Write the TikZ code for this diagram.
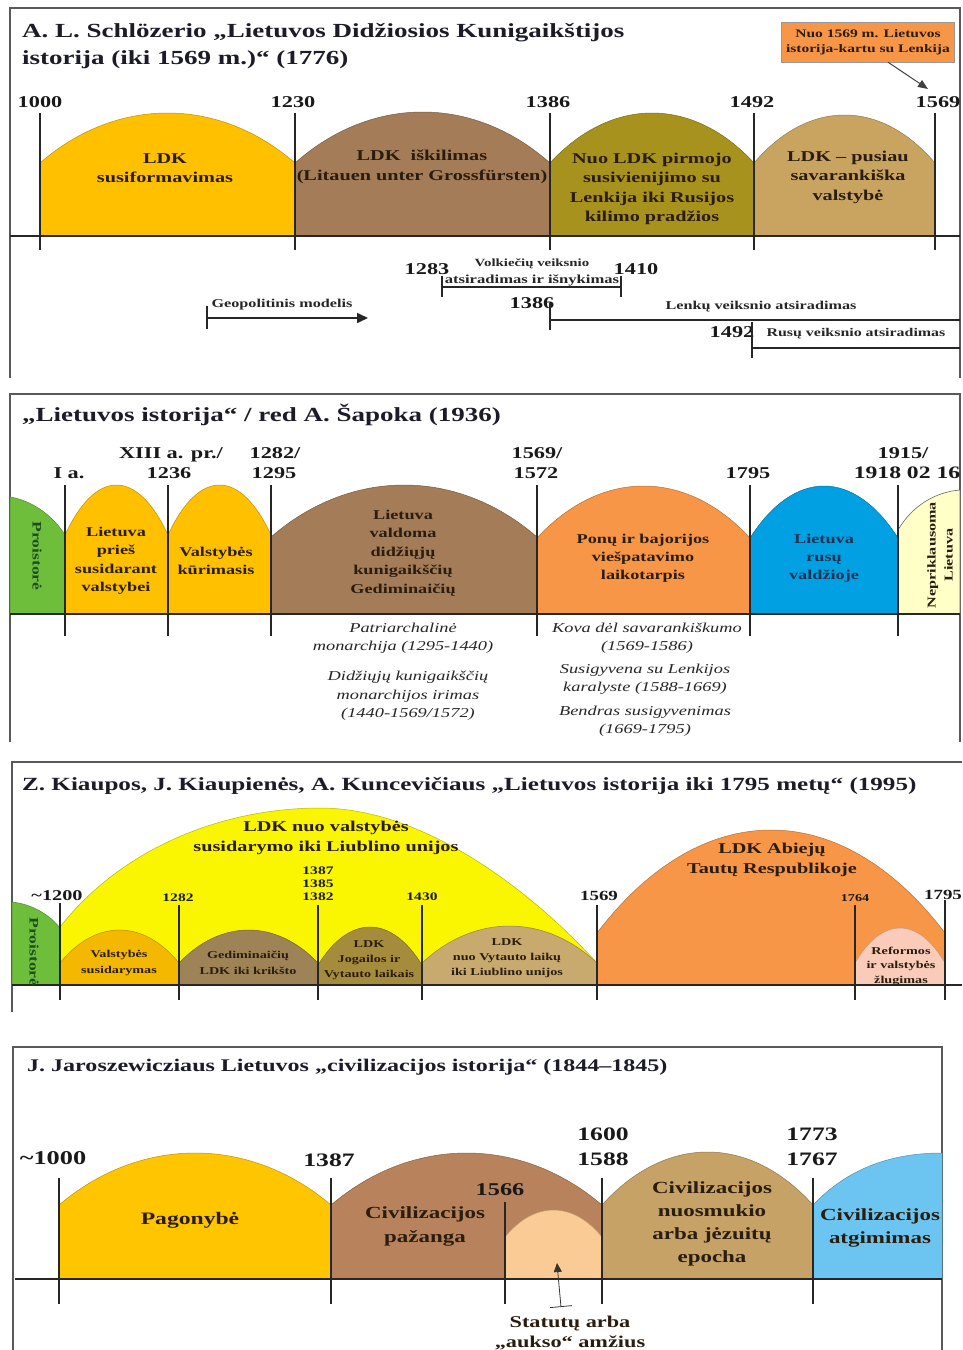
\documentclass[tikz,border=0pt]{standalone}
\usepackage{fontspec}
\setmainfont{Liberation Serif}[FakeStretch=1.35]
\usetikzlibrary{arrows.meta}
\definecolor{gold}{HTML}{FFC000}
\definecolor{brownA}{HTML}{A47C58}
\definecolor{oliveA}{HTML}{A8921E}
\definecolor{tanA}{HTML}{C9A460}
\definecolor{greenA}{HTML}{6EBE3C}
\definecolor{orangeA}{HTML}{F79646}
\definecolor{blueA}{HTML}{00A0E2}
\definecolor{lyellow}{HTML}{FFFFC8}
\definecolor{yelB}{HTML}{FAF500}
\definecolor{goldB}{HTML}{F5B800}
\definecolor{brownB}{HTML}{9E8356}
\definecolor{oliveB}{HTML}{A58C3C}
\definecolor{tanB}{HTML}{C8AA6E}
\definecolor{pinkB}{HTML}{F9CBB8}
\definecolor{yelD}{HTML}{FFC600}
\definecolor{brownD}{HTML}{B8825C}
\definecolor{peachD}{HTML}{FACB94}
\definecolor{tanD}{HTML}{C6A266}
\definecolor{blueD}{HTML}{6CC5F0}
\definecolor{ink}{HTML}{2A1D10}
\definecolor{titlec}{HTML}{1C1C28}
\definecolor{navy}{HTML}{1F3050}
\definecolor{dgreen}{HTML}{1E4D1E}
\newcommand\fs[2]{\fontsize{#1}{#2}\selectfont}
\newcommand\mkarch[6]{\path[#1] (#2,#6) -- (#2,#4) .. controls ({#2+0.3*(#3-#2)},{#4-1.3333*(#4-#5)}) and ({#3-0.3*(#3-#2)},{#4-1.3333*(#4-#5)}) .. (#3,#4) -- (#3,#6) -- cycle;}
\tikzset{
  frm/.style={draw=black!65, line width=2pt},
  axisln/.style={draw=black!85, line width=2.5pt},
  tk/.style={draw=black!85, line width=2.5pt},
  ttl/.style={font=\bfseries\fs{20}{24}, text=titlec, inner sep=0pt, anchor=base west},
  yr/.style={font=\bfseries\fs{16.5}{19}, text=black!90, inner sep=0pt, anchor=base, align=center},
  atx/.style={font=\bfseries\fs{15}{19.5}, text=ink, inner sep=0pt, align=center},
  sm/.style={font=\bfseries\fs{12}{15}, text=black!85, inner sep=0pt, align=center},
  itx/.style={font=\itshape\fs{13.6}{18.5}, text=black!85, inner sep=0pt, align=center},
  arc/.style={fill=#1, draw=#1!75!black, line width=.5pt},
  ln/.style={draw=black!85, line width=1.6pt},
}
\begin{document}
\begin{tikzpicture}[x=1pt,y=-1pt]
\useasboundingbox (0,0) rectangle (962,1350);
\fill[white] (0,0) rectangle (962,1350);

% ================= Panel 1 =================
\draw[frm] (10,378) -- (10,8) -- (960,8) -- (960,378);
\node[ttl] (p1a) at (22,37) {A. L. Schlözerio „Lietuvos Didžiosios Kunigaikštijos};
\node[ttl] (p1b) at (22,64) {istorija (iki 1569 m.)“ (1776)};
\mkarch{arc=gold}{40}{295}{163}{113}{236}
\mkarch{arc=brownA}{295}{550}{163}{112}{236}
\mkarch{arc=oliveA}{550}{754}{163}{113}{236}
\mkarch{arc=tanA}{754}{935}{163}{115}{236}
\draw[axisln] (10,236) -- (960,236);
\foreach \x in {40,295,550,754,935} \draw[tk] (\x,113) -- (\x,250);
\node[yr] (y1000) at (40,107) {1000};
\node[yr] (y1230) at (293,107) {1230};
\node[yr] (y1386) at (548,107) {1386};
\node[yr] (y1492) at (752,107) {1492};
\node[yr] (y1569) at (938,107) {1569};
\node[atx] (a11) at (165,168) {LDK\\susiformavimas};
\node[atx] (a12) at (422,167) {LDK\ \ iškilimas\\(Litauen unter Grossfürsten)};
\node[atx] (a13) at (652,189) {Nuo LDK pirmojo\\susivienijimo su\\Lenkija iki Rusijos\\kilimo pradžios};
\node[atx] (a14) at (848,177) {LDK – pusiau\\savarankiška\\valstybė};
\node[draw=black!40, fill=orangeA, minimum width=173pt, minimum height=40pt, inner sep=0pt,
      font=\bfseries\fs{11.5}{15}, text=ink, align=center] (box) at (868,42) {Nuo 1569 m. Lietuvos\\istorija-kartu su Lenkija};
\coordinate (tip1569) at (928,89);
\draw[draw=black!75, line width=1pt, -{Triangle[length=10pt,width=8pt]}] ([xshift=20pt]box.south) -- (tip1569);
% lower part
\node[yr] (y1283) at (427,274) {1283};
\node[sm, font=\bfseries\fs{11}{15}] (volk1) at (532,264) {Volkiečių veiksnio};
\node[sm, font=\bfseries\fs{12.3}{15}] (volk2) at (532,280) {atsiradimas ir išnykimas};
\node[yr] (y1410) at (636,274) {1410};
\coordinate (b1) at (442,287); \coordinate (b2) at (621,287);
\draw[ln] (b1) -- (b2);
\draw[ln] ([yshift=-10pt]b1) -- ([yshift=11pt]b1);
\draw[ln] ([yshift=-10pt]b2) -- ([yshift=11pt]b2);
\node[sm] (geo) at (282,305) {Geopolitinis modelis};
\coordinate (g1) at (207,318); \coordinate (g2) at (368,318);
\draw[ln, -{Triangle[length=11pt,width=10pt]}] (g1) -- (g2);
\draw[ln] ([yshift=-11pt]g1) -- ([yshift=12pt]g1);
\node[yr] (y1386b) at (532,308) {1386};
\coordinate (l1) at (550,320); \coordinate (l2) at (960,320);
\draw[ln, line width=2pt] (l1) -- (l2);
\draw[ln, line width=2pt] (550,303) -- (550,330);
\node[sm] (lenk) at (761,307) {Lenkų veiksnio atsiradimas};
\node[yr] (y1492b) at (732,337) {1492};
\coordinate (r1) at (752,348); \coordinate (r2) at (960,348);
\draw[ln, line width=2pt] (r1) -- (r2);
\draw[ln, line width=2pt] (752,322) -- (752,358);
\node[sm, font=\bfseries\fs{11.8}{15}] (rus) at (856,334) {Rusų veiksnio atsiradimas};

% ================= Panel 2 =================
\draw[frm] (10,742) -- (10,394) -- (960,394) -- (960,742);
\node[ttl] (p2a) at (22,421) {„Lietuvos istorija“ / red A. Šapoka (1936)};
\path[arc=greenA] (10,614) -- (10,497) .. controls (30,500) and (52,514) .. (65,535) -- (65,614) -- cycle;
\mkarch{arc=gold}{65}{168}{535}{485}{614}
\mkarch{arc=gold}{168}{271}{535}{485}{614}
\mkarch{arc=brownA}{271}{537}{537}{485}{614}
\mkarch{arc=orangeA}{537}{750}{538}{486}{614}
\mkarch{arc=blueA}{750}{898}{538}{486}{614}
\path[fill=lyellow, draw=black!60, line width=.6pt] (898,614) -- (898,530) .. controls (912,506) and (935,492) .. (960,490) -- (960,614) -- cycle;
\draw[axisln] (10,614) -- (960,614);
\foreach \x in {65,168,271,537,750,898} \draw[tk] (\x,485) -- (\x,636);
\node[yr] (yIa) at (69,478) {I a.};
\node[yr] (yXIII) at (171,458) {XIII a. pr./};
\node[yr] (y1236) at (169,478) {1236};
\node[yr] (y1282) at (275,458) {1282/};
\node[yr] (y1295) at (274,478) {1295};
\node[yr] (y1569a) at (537,458) {1569/};
\node[yr] (y1572) at (536,478) {1572};
\node[yr] (y1795) at (748,478) {1795};
\node[yr] (y1915) at (903,458) {1915/};
\node[yr, font=\bfseries\fs{17.5}{19}] (y1918) at (907,478) {1918 02 16};
\node[atx, font=\bfseries\fs{13}{18}, text=dgreen, rotate=-90] (pro2) at (37,556) {Proistorė};
\node[atx, font=\bfseries\fs{13.5}{18.5}] (a21) at (116,561) {Lietuva\\prieš\\susidarant\\valstybei};
\node[atx, font=\bfseries\fs{13.5}{18.5}] (a22) at (216,561) {Valstybės\\kūrimasis};
\node[atx, font=\bfseries\fs{13.5}{18.5}] (a23) at (403,553) {Lietuva\\valdoma\\didžiųjų\\kunigaikščių\\Gediminaičių};
\node[atx, font=\bfseries\fs{13.5}{18}] (a24) at (643,558) {Ponų ir bajorijos\\viešpatavimo\\laikotarpis};
\node[atx, font=\bfseries\fs{13.5}{18}, text=navy] (a25) at (824,558) {Lietuva\\rusų\\valdžioje};
\node[atx, font=\bfseries\fs{12}{17}, rotate=90] (a26) at (940,555) {Nepriklausoma\\Lietuva};
\node[itx] (i1) at (403,638) {Patriarchalinė\\monarchija (1295-1440)};
\node[itx] (i2) at (408,696) {Didžiųjų kunigaikščių\\monarchijos irimas\\(1440-1569/1572)};
\node[itx] (i3) at (647,638) {Kova dėl savarankiškumo\\(1569-1586)};
\node[itx] (i4) at (645,679) {Susigyvena su Lenkijos\\karalyste (1588-1669)};
\node[itx] (i5) at (645,721) {Bendras susigyvenimas\\(1669-1795)};

% ================= Panel 3 =================
\draw[frm] (12,1012) -- (12,762) -- (962,762);
\node[ttl, font=\bfseries\fs{18.6}{22}] (p3a) at (22,790) {Z. Kiaupos, J. Kiaupienės, A. Kuncevičiaus „Lietuvos istorija iki 1795 metų“ (1995)};
\path[arc=yelB] (60,985) -- (60,927) .. controls (120,850) and (220,808) .. (320,808) .. controls (430,808) and (540,900) .. (597,963) -- (597,985) -- cycle;
\path[arc=greenA] (12,985) -- (12,902) .. controls (32,904) and (50,915) .. (60,928) -- (60,985) -- cycle;
\mkarch{arc=goldB}{60}{179}{963}{930}{985}
\mkarch{arc=brownB}{179}{318}{963}{930}{985}
\mkarch{arc=oliveB}{318}{422}{965}{927}{985}
\mkarch{arc=tanB}{422}{597}{963}{926}{985}
\mkarch{arc=orangeA}{597}{945}{933}{830}{985}
\mkarch{arc=pinkB}{855}{945}{963}{928}{985}
\draw[axisln] (12,985) -- (962,985);
\draw[tk] (60,903) -- (60,1000);
\foreach \x in {179,318,422,597,855} \draw[tk] (\x,905) -- (\x,1000);
\draw[tk] (945,900) -- (945,1000);
\node[yr, font=\bfseries\fs{15}{18}] (y1200) at (57,900) {\char"007E 1200};
\node[yr, font=\bfseries\fs{11.5}{13}] (y1282c) at (178,901) {1282};
\node[yr, font=\bfseries\fs{11.5}{13}] (y1387) at (318,900) {1387\\1385\\1382};
\node[yr, font=\bfseries\fs{11.5}{13}] (y1430) at (422,900) {1430};
\node[yr, font=\bfseries\fs{14}{16}] (y1569c) at (599,900) {1569};
\node[yr, font=\bfseries\fs{10.5}{12}] (y1764) at (855,901) {1764};
\node[yr, font=\bfseries\fs{14}{16}] (y1795c) at (943,899) {1795};
\node[atx] (a30) at (326,838) {LDK nuo valstybės\\susidarymo iki Liublino unijos};
\node[atx, font=\bfseries\fs{13}{18}, text=dgreen, rotate=-90] (pro3) at (34,952) {Proistorė};
\node[atx, font=\bfseries\fs{10.5}{15.5}] (a31) at (119,963) {Valstybės\\susidarymas};
\node[atx, font=\bfseries\fs{10.5}{15.5}] (a32) at (248,963) {Gediminaičių\\LDK iki krikšto};
\node[atx, font=\bfseries\fs{10.5}{15}] (a33) at (369,960) {LDK\\Jogailos ir\\Vytauto laikais};
\node[atx, font=\bfseries\fs{10.5}{15}] (a34) at (507,958) {LDK\\nuo Vytauto laikų\\iki Liublino unijos};
\node[atx] (a35) at (772,860) {LDK Abiejų\\Tautų Respublikoje};
\node[atx, font=\bfseries\fs{10.5}{14.5}] (a36) at (901,966) {Reformos\\ir valstybės\\žlugimas};

% ================= Panel 4 =================
\draw[frm] (13,1350) -- (13,1047) -- (942,1047) -- (942,1350);
\node[ttl, font=\bfseries\fs{17.8}{22}] (p4a) at (27,1071) {J. Jaroszewicziaus Lietuvos „civilizacijos istorija“ (1844–1845)};
\mkarch{arc=yelD}{59}{331}{1205}{1153}{1279}
\mkarch{arc=brownD}{331}{602}{1205}{1153}{1279}
\mkarch{arc=peachD}{505}{602}{1237}{1210}{1279}
\mkarch{arc=tanD}{602}{813}{1205}{1152}{1279}
\path[arc=blueD] (813,1279) -- (813,1205) .. controls (850,1166) and (895,1153) .. (942,1153) -- (942,1279) -- cycle;
\draw[axisln] (15,1279) -- (942,1279);
\foreach \x in {59,331,602,813} \draw[tk] (\x,1178) -- (\x,1304);
\draw[tk] (505,1202) -- (505,1304);
\node[yr, font=\bfseries\fs{19.5}{25}] (y1000d) at (53,1164) {\char"007E 1000};
\node[yr, font=\bfseries\fs{19}{25}] (y1387d) at (329,1166) {1387};
\node[yr, font=\bfseries\fs{18}{22}] (y1566d) at (500,1195) {1566};
\node[yr, font=\bfseries\fs{19}{25}] (y1600d) at (603,1165) {1600\\1588};
\node[yr, font=\bfseries\fs{19}{25}] (y1773d) at (812,1165) {1773\\1767};
\node[atx, font=\bfseries\fs{17.5}{23}] (a41) at (190,1220) {Pagonybė};
\node[atx, font=\bfseries\fs{17}{24}] (a42) at (425,1226) {Civilizacijos\\pažanga};
\node[atx, font=\bfseries\fs{17}{23}] (a43) at (712,1224) {Civilizacijos\\nuosmukio\\arba jėzuitų\\epocha};
\node[atx, font=\bfseries\fs{17}{23}] (a44) at (880,1228) {Civilizacijos\\atgimimas};
\node[atx, font=\bfseries\fs{16.5}{20}] (stat) at (570,1333) {Statutų arba\\„aukso“ amžius};
\coordinate (statbar) at (561,1307);
\coordinate (stattip) at (557,1263);
\draw[draw=black!80, line width=.8pt, {Bar[width=22pt]}-{Triangle[length=9pt,width=8pt]}] (statbar) -- (stattip);
\end{tikzpicture}
\end{document}
